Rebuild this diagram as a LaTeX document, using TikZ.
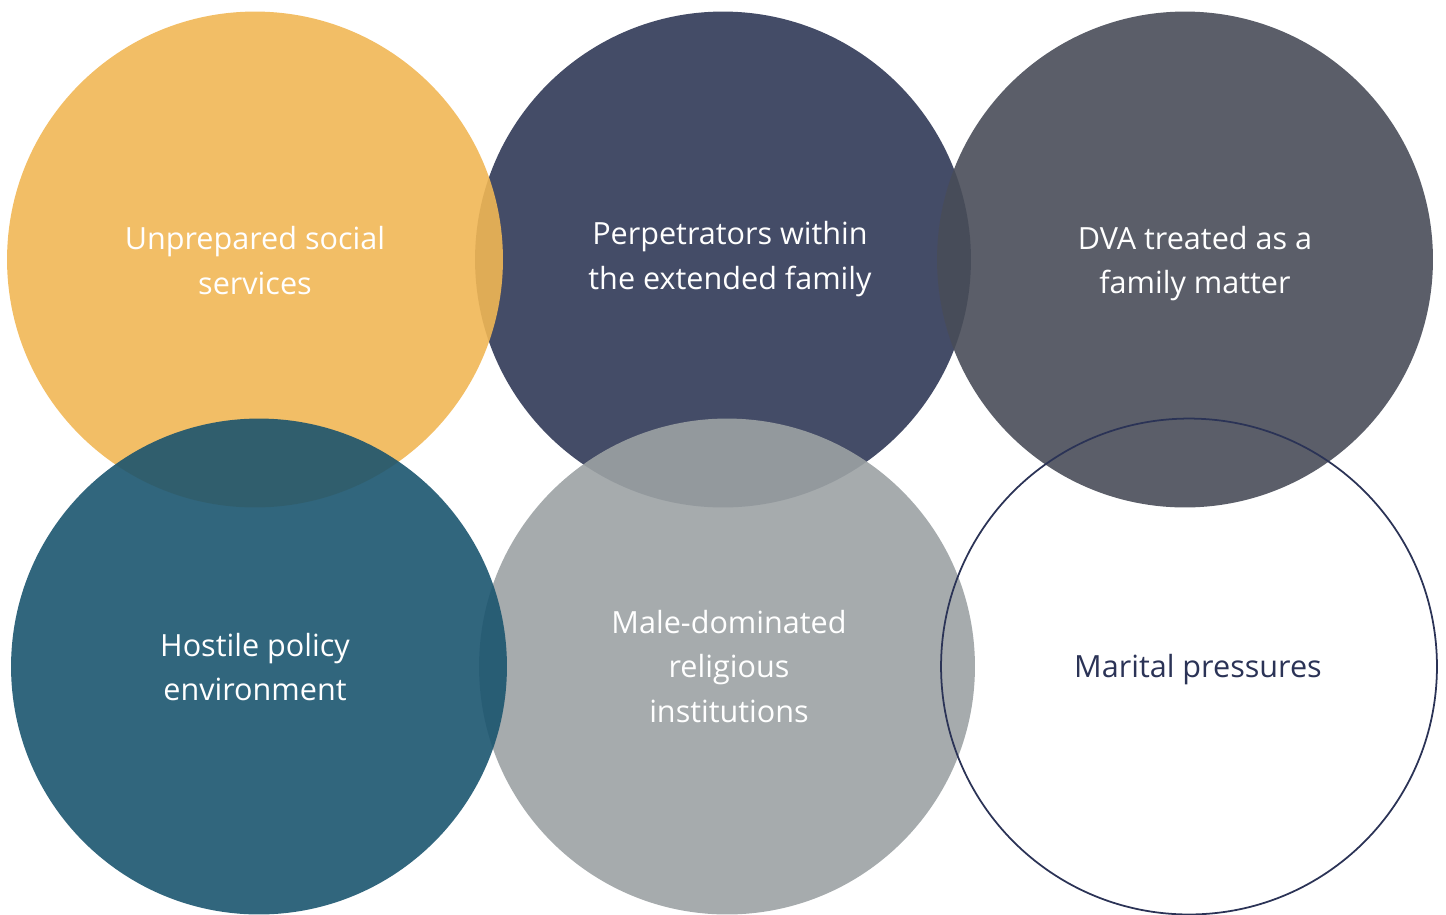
\documentclass[tikz,border=0pt]{standalone}
\usepackage{fontspec}
\setmainfont{Open Sans}
\definecolor{sunny}{RGB}{241,183,85}
\definecolor{dusk}{RGB}{48,56,86}
\definecolor{slate}{RGB}{73,77,89}
\definecolor{petrol}{RGB}{27,85,111}
\definecolor{stone}{RGB}{156,162,164}
\definecolor{inkline}{RGB}{43,51,86}
\begin{document}
\begin{tikzpicture}[x=0.02cm,y=-0.02cm,
	bubble/.style={circle,minimum size=9.92cm,inner sep=0pt,fill opacity=0.9},
	caption/.style={align=center,text=white,font=\fontsize{17.4}{25.5}\selectfont}]
	\useasboundingbox (0,0) rectangle (1446,914);
	% back row first, so the front ones lie over it
	\node[bubble,fill=dusk] (family) at (723,259.5) {};
	\node[bubble,fill=slate] (matter) at (1185,259.5) {};
	\node[bubble,fill=sunny] (services) at (255,259.5) {};
	\node[bubble,fill=stone] (religion) at (727,666.5) {};
	\node[bubble,fill=petrol] (policy) at (259,666.5) {};
	\node[bubble,draw=inkline,line width=1pt,fill=none] (marital) at (1189,666.5) {};
	% texts
	\node[caption] (services-txt) at (255,260.5) {Unprepared social\\services};
	\node[caption] (family-txt) at (730,259) {Perpetrators within\\the extended family};
	\node[caption] (matter-txt) at (1195,263.5) {DVA treated as a\\family matter};
	\node[caption] (policy-txt) at (255,667) {Hostile policy\\environment};
	\node[caption] (religion-txt) at (729,666.5) {Male-dominated\\religious\\institutions};
	\node[caption,text=inkline] (marital-txt) at (1198,670) {Marital pressures};
\end{tikzpicture}
\end{document}
